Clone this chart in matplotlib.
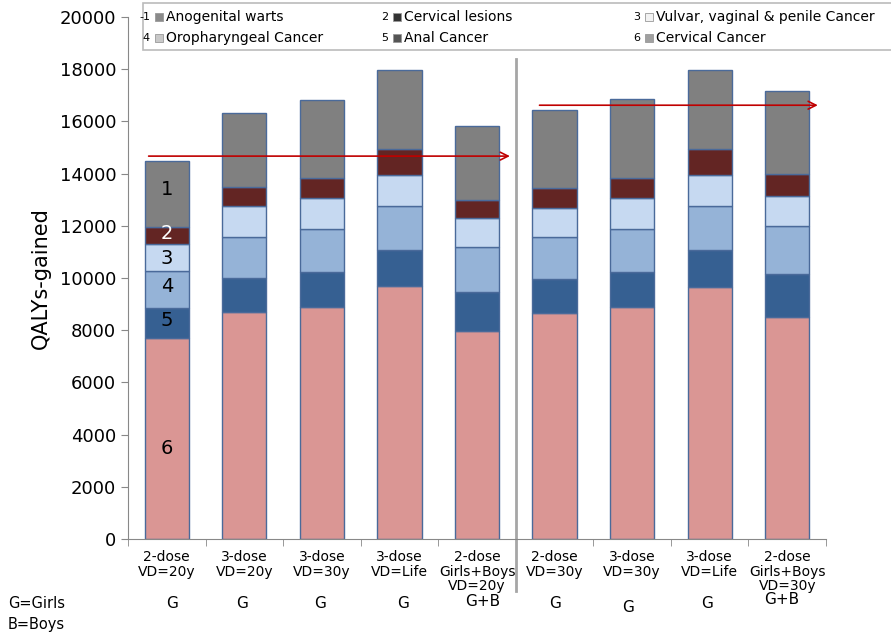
import numpy as np
import matplotlib
matplotlib.use("Agg")
import matplotlib.pyplot as plt
from matplotlib.patches import Rectangle

# scenarios (x axis) and the cohort vaccinated in each
scenarios = ["2-dose\nVD=20y", "3-dose\nVD=20y", "3-dose\nVD=30y", "3-dose\nVD=Life",
             "2-dose\nGirls+Boys\nVD=20y",
             "2-dose\nVD=30y", "3-dose\nVD=30y", "3-dose\nVD=Life",
             "2-dose\nGirls+Boys\nVD=30y"]
cohort = ["G", "G", "G", "G", "G+B", "G", "G", "G", "G+B"]

# cumulative QALYs (top of each stacked segment), bottom segment first
cervical_top = [7690, 8700, 8900, 9690, 7980, 8670, 8900, 9670, 8515]
anal_top     = [8860, 10010, 10240, 11070, 9460, 9960, 10230, 11060, 10140]
oro_top      = [10265, 11590, 11885, 12740, 11170, 11555, 11880, 12740, 11990]
vulvar_top   = [11300, 12750, 13050, 13940, 12290, 12690, 13050, 13930, 13160]
lesions_top  = [11940, 13490, 13850, 14960, 12970, 13430, 13850, 14960, 13980]
warts_top    = [14490, 16330, 16830, 17980, 15820, 16430, 16840, 17980, 17160]

legend_names = ["Anogenital warts", "Cervical lesions", "Vulvar, vaginal & penile Cancer",
                "Oropharyngeal Cancer", "Anal Cancer", "Cervical Cancer"]
legend_nums = ["-1", "2", "3", "4", "5", "6"]

# reference lines drawn as arrows across each group
arrow_left = 14670
arrow_right = 16620

tops = [cervical_top, anal_top, oro_top, vulvar_top, lesions_top, warts_top]
colors = ["#DA9694", "#366092", "#95B3D7", "#C6D9F1", "#632523", "#808080"]
legend_gray = ["#8a8a8a", "#333333", "#f2f2f2", "#c8c8c8", "#555555", "#a0a0a0"]

fig = plt.figure(figsize=(8.91, 6.34), dpi=100)
ax = fig.add_axes([128/891, 1 - 539/634, (826 - 128)/891, (539 - 17)/634])

x = np.arange(len(scenarios))
bottom = np.zeros(len(scenarios))
for top, c in zip(tops, colors):
    top = np.array(top, dtype=float)
    ax.bar(x, top - bottom, bottom=bottom, width=0.57, color=c,
           edgecolor="#4a6a9a", linewidth=1.0)
    bottom = top

ax.set_xlim(-0.5, len(scenarios) - 0.5)
ax.set_ylim(0, 20000)
ax.set_yticks(np.arange(0, 20001, 2000))
ax.tick_params(axis="y", labelsize=13, direction="out", length=5, color="#888888")
ax.set_ylabel("QALYs-gained", fontsize=15, labelpad=6)

ax.set_xticks(x)
ax.set_xticklabels(scenarios, fontsize=10, va="top", linespacing=1.05)
ax.set_xticks(np.arange(-0.5, len(scenarios)), minor=True)
ax.tick_params(axis="x", which="major", length=0, pad=8)
ax.tick_params(axis="x", which="minor", length=5, direction="out", color="#888888")

for s in ["top", "right"]:
    ax.spines[s].set_visible(False)
for s in ["left", "bottom"]:
    ax.spines[s].set_color("#888888")

# separator between the 20-year and 30-year groups
ax.plot([4.5, 4.5], [-2000, 18400], color="#a6a6a6", lw=2, clip_on=False)

# arrows across each group
ax.annotate("", xy=(4.46, arrow_left), xytext=(-0.27, arrow_left),
            arrowprops=dict(arrowstyle="->", color="#C00000", lw=1.2,
                            mutation_scale=14))
ax.annotate("", xy=(8.43, arrow_right), xytext=(4.77, arrow_right),
            arrowprops=dict(arrowstyle="->", color="#C00000", lw=1.2,
                            mutation_scale=14))

# segment numbers on the first bar
for n, yv, c in [("1", 13400, "black"), ("2", 11720, "white"), ("3", 10760, "black"),
                 ("4", 9690, "black"), ("5", 8390, "black"), ("6", 3450, "black")]:
    ax.text(0, yv, n, ha="center", va="center", fontsize=14, color=c)

# cohort labels under the axis
g_x = [172, 242, 320, 403, 483, 555, 628, 707, 782]
g_y = [604, 604, 604, 604, 602, 604, 608, 603, 600]
for gx, gy, lab in zip(g_x, g_y, cohort):
    fig.text(gx/891, 1 - gy/634, lab, ha="center", va="center", fontsize=11)
fig.text(8/891, 1 - 604/634, "G=Girls", ha="left", va="center", fontsize=10.5)
fig.text(8/891, 1 - 625/634, "B=Boys", ha="left", va="center", fontsize=10.5)

# numbered legend box along the top
fig.patches.append(Rectangle((143/891, 1 - 50/634), (900 - 143)/891, 47/634,
                             transform=fig.transFigure, facecolor="white",
                             edgecolor="#bbbbbb", lw=1.2, zorder=5))
col_x = [150, 388, 640]
row_y = [17, 38]
for i, name in enumerate(legend_names):
    cx = col_x[i % 3]
    ry = row_y[i // 3]
    fig.text(cx/891, 1 - ry/634, legend_nums[i], ha="right",
             va="center", fontsize=8, zorder=6)
    fig.patches.append(Rectangle(((cx + 5)/891, 1 - (ry + 4)/634), 8/891, 8/634,
                                 transform=fig.transFigure, facecolor=legend_gray[i],
                                 edgecolor="#999999", lw=0.6, zorder=6))
    fig.text((cx + 16)/891, 1 - ry/634, name, ha="left", va="center",
             fontsize=10, zorder=6)

fig.savefig("out.png", dpi=100)
